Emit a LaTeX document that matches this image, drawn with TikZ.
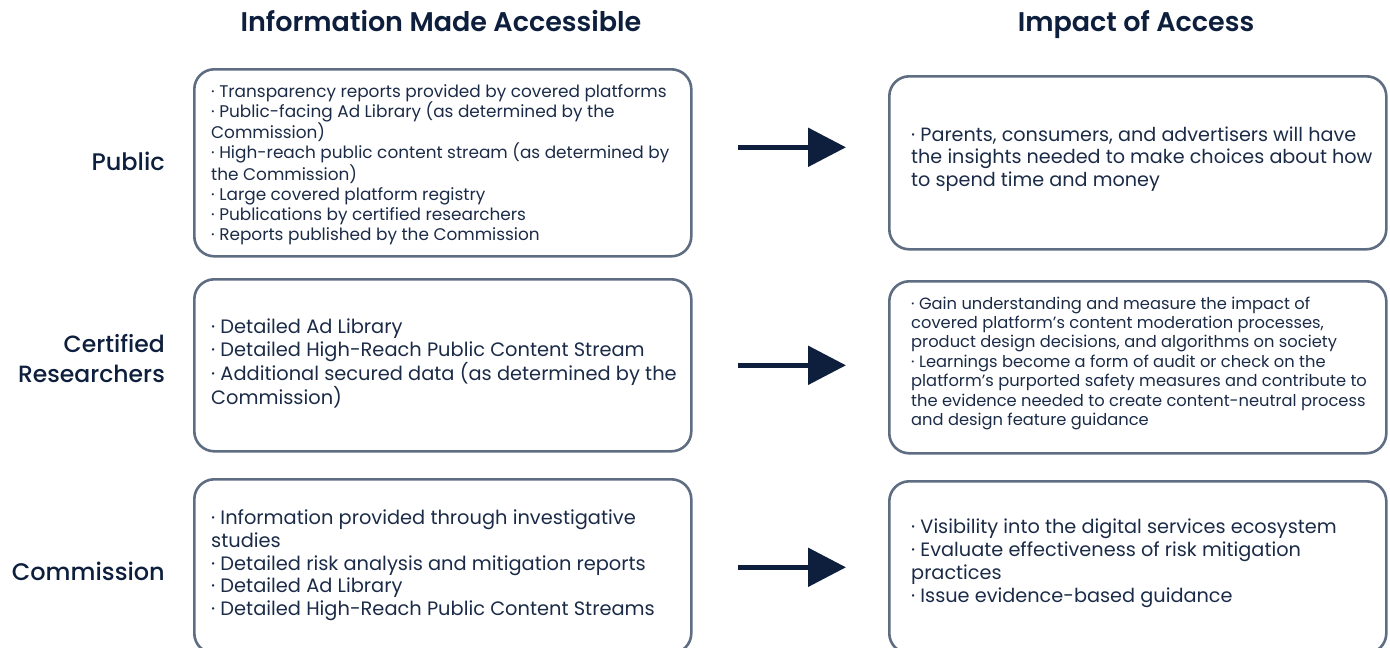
\documentclass[tikz,border=0pt]{standalone}
\usepackage{fontspec}
\setmainfont{Poppins}[BoldFont={Poppins SemiBold}]
\newfontfamily\medfont{Poppins Medium}
\usetikzlibrary{arrows.meta}
\definecolor{navy}{HTML}{0D1F3C}
\definecolor{bodytext}{HTML}{1B2B47}
\definecolor{framegrey}{HTML}{5E6D82}
\newcommand\fsz[2]{\fontsize{#1}{#2}\selectfont}
\tikzset{
  panel/.style={draw=framegrey, line width=2.6pt, rounded corners=20pt,
    minimum width=497pt, anchor=north west, inner sep=0pt},
  bullets/.style={anchor=west, align=left, inner sep=0pt, text=bodytext},
  rowlabel/.style={anchor=east, align=right, inner sep=0pt, text=navy,
    font=\medfont\fsz{24}{30}},
  heading/.style={inner sep=0pt, anchor=base, text=navy, font=\bfseries\fsz{27}{30}},
  flow/.style={draw=navy, line width=5.5pt,
    -{Triangle[length=38pt,width=38pt]}},
}
\begin{document}
\begin{tikzpicture}[x=1pt,y=-1pt]
\useasboundingbox (0,0) rectangle (1390,648);

% column panels
\node[panel, minimum height=187pt] (pubinfo)  at (193,68)  {};
\node[panel, minimum height=172pt] (resinfo)  at (193,278) {};
\node[panel, minimum height=174pt] (cominfo)  at (193,478) {};
\node[panel, minimum height=173pt] (pubimpact) at (888,75)  {};
\node[panel, minimum height=172pt] (resimpact) at (888,280) {};
\node[panel, minimum height=172pt] (comimpact) at (888,480) {};

% column headings
\node[heading] (infohead)   at (441,31)  {Information Made Accessible};
\node[heading] (impacthead) at (1136,31) {Impact of Access};

% row labels
\node[rowlabel] (publab) at ([xshift=-28pt,yshift=1.5pt]pubinfo.west) {Public};
\node[rowlabel, font=\medfont\fsz{23.5}{30}] (reslab) at ([xshift=-28pt,yshift=7pt]resinfo.west) {Certified\\Researchers};
\node[rowlabel] (comlab) at ([xshift=-28pt,yshift=-5pt]cominfo.west) {Commission};

% panel contents
\node[bullets, font=\fsz{16.9}{20.2}] (pubinfotxt) at ([xshift=18pt,yshift=-2pt]pubinfo.west) {%
· Transparency reports provided by covered platforms\\
· Public-facing Ad Library (as determined by the\\
Commission)\\
· High-reach public content stream (as determined by\\
the Commission)\\
· Large covered platform registry\\
· Publications by certified researchers\\
· Reports published by the Commission};

\node[bullets, font=\fsz{19.4}{23}] (resinfotxt) at ([xshift=18pt,yshift=2pt]resinfo.west) {%
· Detailed Ad Library\\
· Detailed High-Reach Public Content Stream\\
· Additional secured data (as determined by the\\
Commission)};

\node[bullets, font=\fsz{19.4}{22.8}] (cominfotxt) at ([xshift=18pt,yshift=1pt]cominfo.west) {%
· Information provided through investigative\\
studies\\
· Detailed risk analysis and mitigation reports\\
· Detailed Ad Library\\
· Detailed High-Reach Public Content Streams};

\node[bullets, font=\fsz{19.2}{22.5}] (pubimpacttxt) at ([xshift=23pt,yshift=4pt]pubimpact.west) {%
· Parents, consumers, and advertisers will have\\
the insights needed to make choices about how\\
to spend time and money};

\node[bullets, font=\fsz{16.3}{19.4}] (resimpacttxt) at ([xshift=23pt,yshift=4pt]resimpact.west) {%
· Gain understanding and measure the impact of\\
covered platform’s content moderation processes,\\
product design decisions, and algorithms on society\\
· Learnings become a form of audit or check on the\\
platform’s purported safety measures and contribute to\\
the evidence needed to create content-neutral process\\
and design feature guidance};

\node[bullets, font=\fsz{19.3}{22.7}] (comimpacttxt) at ([xshift=23pt,yshift=4pt]comimpact.west) {%
· Visibility into the digital services ecosystem\\
· Evaluate effectiveness of risk mitigation\\
practices\\
· Issue evidence-based guidance};

% arrows between columns
\draw[flow] ([xshift=45pt,yshift=15.5pt]pubinfo.east) -- ([xshift=-42pt,yshift=15.5pt]pubimpact.west);
\draw[flow] ([xshift=45pt]resinfo.east) -- ([xshift=-42pt,yshift=2pt]resimpact.west);
\draw[flow] ([xshift=45pt,yshift=-1pt]cominfo.east) -- ([xshift=-42pt]comimpact.west);
\end{tikzpicture}
\end{document}
